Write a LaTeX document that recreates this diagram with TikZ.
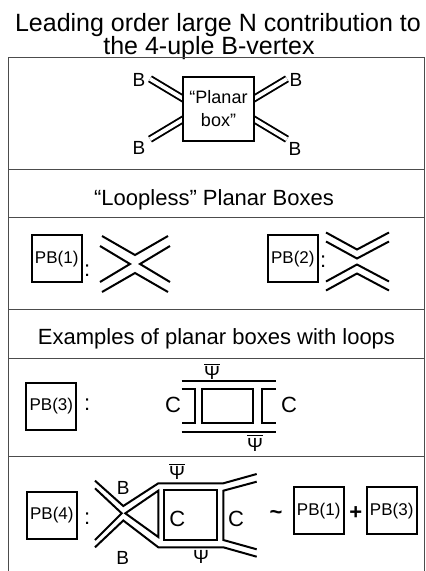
\documentclass[tikz,border=0pt]{standalone}
\usepackage{amsmath}
\usepackage{amssymb}
\usepackage{fontspec}
\setmainfont{Liberation Sans}
\usetikzlibrary{backgrounds}

\tikzset{
  frame/.style={draw=black!70, line width=0.9pt},
  title/.style={anchor=base, inner sep=0pt, font=\fontsize{25}{28}\selectfont},
  header/.style={anchor=base, inner sep=0pt, font=\fontsize{22}{26}\selectfont},
  pbbox/.style={draw, line width=2pt, minimum width=50pt, minimum height=47pt, inner sep=0pt, font=\fontsize{17}{20}\selectfont},
  strand/.style={line width=2pt},
  bleg/.style={double, double distance=3.8pt, line width=1.9pt},
  lbl/.style={inner sep=0pt, font=\fontsize{19}{22}\selectfont},
  sign/.style={inner sep=0pt, font=\fontsize{22}{26}\selectfont}
}
\newcommand{\psibar}{$\overline{\text{Ψ}}$}

\begin{document}
\begin{tikzpicture}[x=1pt, y=-1pt]
  \useasboundingbox (0,0) rectangle (426,571);
  % Title
  \node[title] (t1) at (218,31) {Leading order large N contribution to};
  \node[title] (t2) at (209,54.5) {the 4-uple B-vertex};
  % Table frame and rows
  \draw[frame] (8.5,571) -- (8.5,57) -- (424.5,57) -- (424.5,571);
  \foreach \y in {169,217,309,358,456}
    \draw[frame] (8.5,\y) -- (424.5,\y);

  % Row 1: planar box with its four B legs
  \node[draw, line width=2pt, fill=white, minimum width=71pt, minimum height=64pt,
        align=center, inner sep=0pt, font=\fontsize{18}{23}\selectfont] (pbox) at (218.5,109) {“Planar\\box”};
  \begin{scope}[on background layer]
    \draw[bleg] ([shift={(4,-8.6)}]pbox.west) -- ++(-36,-21.6);
    \draw[bleg] ([shift={(4,8.6)}]pbox.west) -- ++(-36,21.6);
    \draw[bleg] ([shift={(-4,-8.6)}]pbox.east) -- ++(36,-21.6);
    \draw[bleg] ([shift={(-4,8.6)}]pbox.east) -- ++(36,21.6);
  \end{scope}
  \node[lbl] (b1) at (139,80) {B};
  \node[lbl] (b2) at (139,148) {B};
  \node[lbl] (b3) at (296,80) {B};
  \node[lbl] (b4) at (295,149) {B};

  % Row 2: loopless planar boxes
  \node[header] (h1) at (214,205) {“Loopless” Planar Boxes};
  \node[pbbox] (pb1) at (56.7,258.8) {PB(1)};
  \node[sign] (c1) at (87.3,271) {:};
  \begin{scope}[shift={(135,264)}]
    \draw[strand] (-33,-28) -- (0,-9) -- (33,-28);
    \draw[strand] (-35,-18) -- (-5,0) -- (-35,18);
    \draw[strand] (35,-18) -- (5,0) -- (35,18);
    \draw[strand] (-33,28) -- (0,9) -- (33,28);
  \end{scope}
  \node[pbbox] (pb2) at (292.8,258.8) {PB(2)};
  \node[sign] (c2) at (323.3,262) {:};
  \begin{scope}[shift={(357,261.5)}]
    \draw[strand] (-31,-29) -- (0,-12) -- (32,-29);
    \draw[strand] (-31,-20) -- (0,-3) -- (32,-20);
    \draw[strand] (-31,20) -- (0,3) -- (32,20);
    \draw[strand] (-31,29) -- (0,12) -- (32,29);
  \end{scope}

  % Row 3: planar box with loops
  \node[header] (h2) at (216.5,344.3) {Examples of planar boxes with loops};
  \node[pbbox] (pb3) at (51.3,406) {PB(3)};
  \node[sign] (c3) at (87.3,405) {:};
  \draw[strand] (181.7,380.7) -- (276,380.7);
  \draw[strand] (181.7,431.7) -- (276,431.7);
  \draw[strand] (181.7,389.3) -- (195,389.3) -- (195,422.7) -- (181.7,422.7);
  \draw[strand] (202.3,389.3) rectangle (253.3,422.7);
  \draw[strand] (276,389.3) -- (261.7,389.3) -- (261.7,422.7) -- (276,422.7);
  \node[lbl] (psi1) at (212,371.5) {\psibar};
  \node[lbl] (psi2) at (255,443) {\psibar};
  \node[sign] (cl) at (173,405) {C};
  \node[sign] (cr) at (289,405) {C};

  % Row 4
  \node[pbbox] (pb4) at (51.8,515) {PB(4)};
  \node[sign] (c4) at (87.3,519) {:};
  \draw[strand] (95,480.7) -- (123.3,506) -- (158.3,483.3) -- (223.3,483.3) -- (256.7,474);
  \draw[strand] (95,488.3) -- (121.7,513.3) -- (95,540);
  \draw[strand] (158.3,490.7) -- (125.3,513.3) -- (158.3,537) -- cycle;
  \draw[strand] (95,547.3) -- (123.3,520.5) -- (158.3,547.3) -- (223.3,547.3) -- (256.7,556.7);
  \draw[strand] (256.7,481.7) -- (223.3,490.7) -- (223.3,540) -- (256.7,549.3);
  \draw[strand] (164,490) rectangle (217.3,540);
  \node[lbl] (psi3) at (177,471.5) {\psibar};
  \node[lbl] (psi4) at (201,555) {\psibar};
  \node[lbl] (b5) at (123.3,488.3) {B};
  \node[lbl] (b6) at (122.7,558.3) {B};
  \node[sign] (cin) at (177.3,519.3) {C};
  \node[sign] (cout) at (236,519.3) {C};
  \node[sign, anchor=base, font=\fontsize{22}{26}\selectfont\bfseries] (tilde) at (276,519.2) {\textasciitilde};
  \node[pbbox] (pb1b) at (318.7,510.7) {PB(1)};
  \node[sign, anchor=base, font=\fontsize{22}{26}\selectfont\bfseries] (plus) at (355.7,519.6) {+};
  \node[pbbox] (pb3b) at (391.7,510.7) {PB(3)};
\end{tikzpicture}
\end{document}
